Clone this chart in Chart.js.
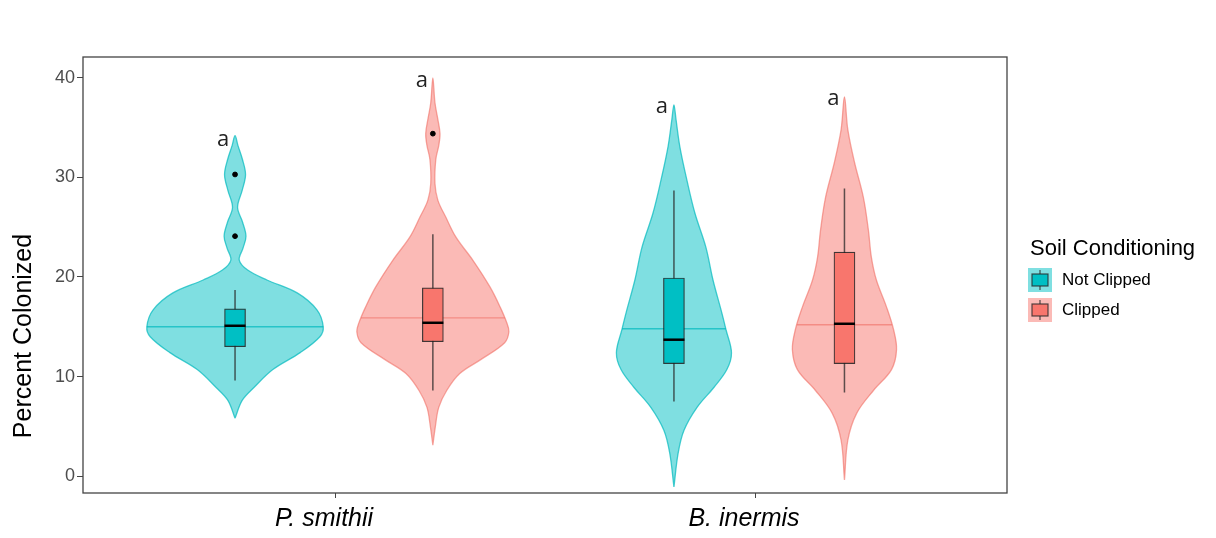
<!DOCTYPE html>
<html>
<head>
<meta charset="utf-8">
<script src="https://cdn.jsdelivr.net/npm/chart.js@4.4.1/dist/chart.umd.min.js"></script>
<style>
  html, body { margin: 0; padding: 0; background: #fff; }
  #wrap { width: 1216px; height: 538px; position: relative; }
</style>
</head>
<body>
<div id="wrap"><canvas id="chart"></canvas></div>
<script>
// categories and ticks
const groups = ['P. smithii', 'B. inermis'];
const groupPos = [1, 2];
const yTicks = [0, 10, 20, 30, 40];
const seriesNames = ['Not Clipped', 'Clipped'];

// dodged positions of each series inside the groups
const notClippedPos = [0.762, 1.807];
const clippedPos = [1.233, 2.213];

// violin profiles (value, half width of density in x units)
const psNotClippedY = [5.8, 7.6, 8.9, 10.7, 12.4, 14.0, 15.0, 16.7, 18.4, 19.7, 20.7, 21.7, 22.9, 24.1, 25.5, 27.0, 28.7, 30.3, 31.9, 33.2, 34.2];
const psNotClippedW = [0, .017, .045, .090, .155, .202, .210, .195, .148, .076, .030, .010, .019, .026, .018, .006, .017, .025, .017, .007, 0];
const psClippedY = [3.1, 5.0, 6.9, 8.6, 10.3, 11.7, 13.4, 14.5, 15.4, 17.0, 19.0, 21.7, 24.0, 26.0, 27.7, 29.4, 31.8, 33.2, 34.4, 35.8, 37.5, 40.0];
const psClippedW = [0, .006, .014, .033, .064, .114, .171, .181, .176, .160, .136, .095, .055, .031, .012, .005, .007, .014, .017, .012, .005, 0];
const biNotClippedY = [-1.1, 2.3, 4.6, 6.9, 8.9, 10.7, 12.4, 14.7, 16.4, 19.7, 23.0, 26.4, 29.7, 33.1, 35.8, 37.3];
const biNotClippedW = [0, .010, .024, .055, .095, .126, .137, .124, .114, .093, .076, .050, .031, .014, .005, 0];
const biClippedY = [-0.4, 3.6, 6.3, 8.6, 10.7, 12.7, 14.7, 17.0, 19.7, 22.0, 24.7, 28.0, 31.5, 34.8, 38.1];
const biClippedW = [0, .008, .029, .069, .112, .124, .117, .100, .076, .064, .057, .045, .024, .008, 0];

// violin median line (draw_quantiles = 0.5)
const notClippedViolinMid = [15.0, 14.8];
const clippedViolinMid = [15.9, 15.2];

// box plot stats
const notClippedLower = [9.6, 7.5];
const notClippedQ1 = [13.0, 11.3];
const notClippedMedian = [15.1, 13.7];
const notClippedQ3 = [16.8, 19.9];
const notClippedUpper = [18.7, 28.7];
const clippedLower = [8.6, 8.4];
const clippedQ1 = [13.5, 11.3];
const clippedMedian = [15.4, 15.3];
const clippedQ3 = [18.9, 22.5];
const clippedUpper = [24.3, 28.9];
const notClippedOutliers = [[30.3, 24.1], []];
const clippedOutliers = [[34.4], []];

// significance letters
const notClippedLetters = ['a', 'a'];
const notClippedLetterY = [33.8, 37.1];
const clippedLetters = ['a', 'a'];
const clippedLetterY = [39.7, 37.9];

const TEAL = '#00BFC4';
const RED = '#F8766D';
const tealFill = 'rgba(0,191,196,0.5)';
const redFill = 'rgba(248,118,109,0.5)';
const tealEdge = 'rgba(0,185,190,0.7)';
const redEdge = 'rgba(240,110,100,0.6)';

function violinPoints(center, ys, ws) {
    const pts = [];
    for (let i = 0; i < ys.length; i++) pts.push({x: center + ws[i], y: ys[i]});
    for (let i = ys.length - 2; i >= 0; i--) pts.push({x: center - ws[i], y: ys[i]});
    return pts;
}

function widthAt(ys, ws, v) {
    for (let i = 1; i < ys.length; i++) {
        if (v <= ys[i]) {
            const t = (v - ys[i - 1]) / (ys[i] - ys[i - 1]);
            return ws[i - 1] + t * (ws[i] - ws[i - 1]);
        }
    }
    return 0;
}

function violinDataset(center, ys, ws, fill, edge) {
    return {
        type: 'line',
        data: violinPoints(center, ys, ws),
        backgroundColor: fill,
        borderColor: edge,
        borderWidth: 1.3,
        fill: 'shape',
        tension: 0.35,
        pointRadius: 0,
        order: 6
    };
}

function midLineDataset(positions, mids, profiles, color) {
    const data = [];
    positions.forEach((c, i) => {
        const w = widthAt(profiles[i][0], profiles[i][1], mids[i]);
        data.push({x: c - w, y: mids[i]}, {x: c + w, y: mids[i]}, {x: c + w, y: null});
    });
    return {type: 'line', data: data, borderColor: color, borderWidth: 1.3, pointRadius: 0, spanGaps: false, order: 5};
}

function whiskerDataset(positions, lower, upper) {
    const data = [];
    positions.forEach((c, i) => {
        data.push({x: c, y: lower[i]}, {x: c, y: upper[i]}, {x: c, y: null});
    });
    return {type: 'line', data: data, borderColor: 'rgba(40,40,40,0.75)', borderWidth: 1.5, pointRadius: 0, spanGaps: false, order: 4};
}

function boxDataset(name, positions, q1, q3, color) {
    return {
        type: 'bar',
        label: name,
        data: positions.map((c, i) => ({x: c, y: [q1[i], q3[i]]})),
        backgroundColor: color,
        borderColor: 'rgba(30,30,30,0.85)',
        borderWidth: 1.2,
        borderSkipped: false,
        barThickness: 21,
        grouped: false,
        order: 3
    };
}

function outlierDataset(positions, outliers) {
    const data = [];
    positions.forEach((c, i) => outliers[i].forEach(v => data.push({x: c, y: v})));
    return {type: 'line', data: data, showLine: false, pointRadius: 2.4, pointBackgroundColor: '#000', pointBorderColor: '#000', order: 1};
}

const notProfiles = [[psNotClippedY, psNotClippedW], [biNotClippedY, biNotClippedW]];
const clipProfiles = [[psClippedY, psClippedW], [biClippedY, biClippedW]];

const datasets = [
    violinDataset(notClippedPos[0], psNotClippedY, psNotClippedW, tealFill, tealEdge),
    violinDataset(clippedPos[0], psClippedY, psClippedW, redFill, redEdge),
    violinDataset(notClippedPos[1], biNotClippedY, biNotClippedW, tealFill, tealEdge),
    violinDataset(clippedPos[1], biClippedY, biClippedW, redFill, redEdge),
    midLineDataset(notClippedPos, notClippedViolinMid, notProfiles, tealEdge),
    midLineDataset(clippedPos, clippedViolinMid, clipProfiles, redEdge),
    whiskerDataset(notClippedPos, notClippedLower, notClippedUpper),
    whiskerDataset(clippedPos, clippedLower, clippedUpper),
    boxDataset(seriesNames[0], notClippedPos, notClippedQ1, notClippedQ3, TEAL),
    boxDataset(seriesNames[1], clippedPos, clippedQ1, clippedQ3, RED),
    outlierDataset(notClippedPos, notClippedOutliers),
    outlierDataset(clippedPos, clippedOutliers)
];

const boxMedians = {8: notClippedMedian, 9: clippedMedian};

// medians inside boxes, letters, panel border, y title and legend
const extrasPlugin = {
    id: 'extras',
    afterDatasetsDraw(chart) {
        const ctx = chart.ctx;
        const xs = chart.scales.x, ys = chart.scales.y;
        ctx.save();
        Object.keys(boxMedians).forEach(idx => {
            const meta = chart.getDatasetMeta(+idx);
            meta.data.forEach((bar, i) => {
                const y = ys.getPixelForValue(boxMedians[idx][i]);
                ctx.beginPath();
                ctx.strokeStyle = '#000';
                ctx.lineWidth = 2.5;
                ctx.moveTo(bar.x - bar.width / 2, y);
                ctx.lineTo(bar.x + bar.width / 2, y);
                ctx.stroke();
            });
        });
        ctx.fillStyle = '#222';
        ctx.font = '22px "Open Sans"';
        ctx.textAlign = 'center';
        ctx.textBaseline = 'middle';
        notClippedPos.forEach((c, i) => ctx.fillText(notClippedLetters[i], xs.getPixelForValue(c) - 12, ys.getPixelForValue(notClippedLetterY[i])));
        clippedPos.forEach((c, i) => ctx.fillText(clippedLetters[i], xs.getPixelForValue(c) - 11, ys.getPixelForValue(clippedLetterY[i])));
        ctx.restore();
    },
    afterDraw(chart) {
        const ctx = chart.ctx;
        const a = chart.chartArea;
        ctx.save();
        ctx.strokeStyle = '#444';
        ctx.lineWidth = 1.3;
        ctx.strokeRect(a.left, a.top, a.right - a.left, a.bottom - a.top);

        // y axis title
        ctx.translate(31, a.top + 279);
        ctx.rotate(-Math.PI / 2);
        ctx.fillStyle = '#000';
        ctx.font = '25px "Liberation Sans"';
        ctx.textAlign = 'center';
        ctx.textBaseline = 'alphabetic';
        ctx.fillText('Percent Colonized', 0, 0);
        ctx.setTransform(1, 0, 0, 1, 0, 0);

        // legend
        const lx = a.right + 21;
        ctx.font = '22px "Liberation Sans"';
        ctx.textAlign = 'left';
        ctx.fillText('Soil Conditioning', lx + 2, 255);
        const keyFill = [tealFill, redFill];
        const keySolid = [TEAL, RED];
        seriesNames.forEach((name, i) => {
            const ky = 268 + i * 30;
            ctx.fillStyle = keyFill[i];
            ctx.fillRect(lx, ky, 24, 24);
            ctx.strokeStyle = 'rgba(40,40,40,0.8)';
            ctx.lineWidth = 1.2;
            ctx.beginPath();
            ctx.moveTo(lx + 12, ky + 2); ctx.lineTo(lx + 12, ky + 22);
            ctx.stroke();
            ctx.fillStyle = keySolid[i];
            ctx.fillRect(lx + 4, ky + 6, 16, 12);
            ctx.strokeRect(lx + 4, ky + 6, 16, 12);
            ctx.fillStyle = '#000';
            ctx.font = '17px "Liberation Sans"';
            ctx.fillText(name, lx + 34, ky + 17);
        });
        ctx.restore();
    }
};

new Chart(document.getElementById('chart'), {
    type: 'line',
    data: { datasets: datasets },
    options: {
        responsive: true,
        maintainAspectRatio: false,
        animation: false,
        layout: { padding: { left: 0, right: 209, top: 57, bottom: 0 } },
        plugins: {
            legend: { display: false },
            tooltip: { enabled: false }
        },
        scales: {
            x: {
                type: 'linear',
                min: 0.4,
                max: 2.6,
                offset: false,
                afterFit: (scale) => { scale.height = 45; },
                afterBuildTicks: (scale) => { scale.ticks = groupPos.map(v => ({value: v})); },
                grid: { drawOnChartArea: false, offset: false, tickLength: 5, color: '#444' },
                border: { display: false },
                ticks: {
                    autoSkip: false,
                    maxRotation: 0,
                    labelOffset: -11,
                    padding: 6,
                    color: '#000',
                    font: { family: 'Liberation Sans', size: 25, style: 'italic' },
                    callback: (value, index) => groups[index]
                }
            },
            y: {
                type: 'linear',
                min: -1.7,
                max: 42.1,
                afterFit: (scale) => { scale.width = 83; },
                afterBuildTicks: (scale) => { scale.ticks = yTicks.map(v => ({value: v})); },
                grid: { drawOnChartArea: false, tickLength: 6, color: '#444' },
                border: { display: false },
                ticks: {
                    padding: 2,
                    color: '#4d4d4d',
                    font: { family: 'Liberation Sans', size: 18 }
                }
            }
        }
    },
    plugins: [extrasPlugin]
});
</script>
</body>
</html>
